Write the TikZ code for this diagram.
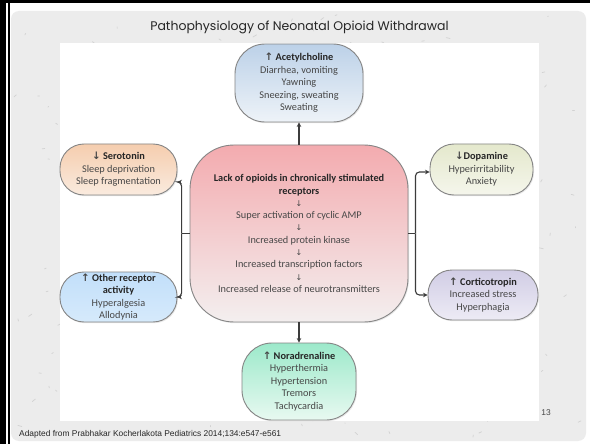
\documentclass[tikz,border=0pt]{standalone}
\usepackage{fontspec}
\setmainfont{Carlito}
\newfontfamily\titlefont{Poppins}
\newfontfamily\footfont{Liberation Sans}
\newfontfamily\arrowfont{DejaVu Sans}
\usetikzlibrary{arrows.meta,shadows}
\definecolor{panel}{HTML}{ECECEC}
\definecolor{speck}{HTML}{D2D2D2}
\definecolor{boxline}{HTML}{858585}
\definecolor{bodytext}{HTML}{474747}
\definecolor{headtext}{HTML}{262626}
\definecolor{conn}{HTML}{3C3C3C}
\definecolor{achT}{HTML}{BCD1E8}\definecolor{achB}{HTML}{EEF3F8}
\definecolor{mainT}{HTML}{F3ABAF}\definecolor{mainB}{HTML}{F3EFEF}
\definecolor{serT}{HTML}{F5CDAE}\definecolor{serB}{HTML}{FAEBDF}
\definecolor{othT}{HTML}{C2DFFA}\definecolor{othM}{HTML}{98CAF4}\definecolor{othB}{HTML}{D6EAFB}
\definecolor{dopT}{HTML}{E4E8CC}\definecolor{dopB}{HTML}{F5F6EC}
\definecolor{corT}{HTML}{D1CDE5}\definecolor{corB}{HTML}{EDEBF5}
\definecolor{norT}{HTML}{9CE9CA}\definecolor{norB}{HTML}{E8F9F1}
\newcommand\myup{{\arrowfont\bfseries ↑}}
\newcommand\mydn{{\arrowfont\bfseries ↓}}
\newcommand\thindn{{\arrowfont\fontsize{8}{12.3}\selectfont ↓}}
\newcommand\hdr[1]{\textcolor{headtext}{\textbf{#1}}}
\begin{document}
\begin{tikzpicture}[x=1pt,y=-1pt,
  box/.style={draw=boxline, line width=0.9pt, align=center, inner sep=0pt,
    font=\fontsize{10.3}{12.5}\selectfont, text=bodytext, shading=axis,
    drop shadow={opacity=0.18, shadow xshift=1pt, shadow yshift=-1.2pt}},
  arr/.style={draw=conn, line width=1.1pt, -{Stealth[length=4.5pt,width=4.5pt]}},
  ln/.style={draw=conn, line width=1.1pt}]
\useasboundingbox (0,0) rectangle (590,444);
% frame and panel
\fill[white] (0,0) rectangle (590,444);
\fill[black] (0,0) rectangle (590,3);
\fill[black] (0,0) rectangle (5.5,444);
\fill[black] (7.5,3) rectangle (10,444);
\fill[panel, rounded corners=8pt] (11,11) rectangle (586,441);
\pgfmathsetseed{7}
\foreach \i in {1,...,260}{
  \pgfmathsetmacro\sx{14+rnd*568}
  \pgfmathsetmacro\sy{14+rnd*424}
  \pgfmathsetmacro\dx{rand*4}
  \pgfmathsetmacro\dy{rand*2.5}
  \draw[speck, line width=0.7pt, line cap=round] (\sx,\sy) -- ++(\dx,\dy);
}
\fill[white] (60,43) rectangle (539,421);
% title
\node[font=\titlefont\fontsize{12.5}{14}\selectfont, text=headtext] (title) at (299.5,27) {Pathophysiology of Neonatal Opioid Withdrawal};
% boxes
\node[box, top color=achT, bottom color=achB, rounded corners=30pt, minimum width=128pt, minimum height=78pt] (ach) at (299,83)
  {\myup\ \hdr{Acetylcholine}\\Diarrhea, vomiting\\Yawning\\Sneezing, sweating\\Sweating};
\node[box, top color=mainT, bottom color=mainB, rounded corners=44pt, minimum width=218pt, minimum height=177pt, font=\fontsize{10.3}{12.3}\selectfont] (main) at (299,233.5)
  {\hdr{Lack of opioids in chronically stimulated}\\\hdr{receptors}\\\thindn\\Super activation of cyclic AMP\\\thindn\\Increased protein kinase\\\thindn\\Increased transcription factors\\\thindn\\Increased release of neurotransmitters};
\node[box, top color=serT, bottom color=serB, rounded corners=24pt, minimum width=117pt, minimum height=51pt] (sero) at (118.5,169.5)
  {\mydn\ \hdr{Serotonin}\\Sleep deprivation\\Sleep fragmentation};
\node[box, top color=othT, middle color=othM, bottom color=othB, rounded corners=24pt, minimum width=117pt, minimum height=50pt] (oth) at (118.5,297)
  {\myup\ \hdr{Other receptor}\\\hdr{activity}\\Hyperalgesia\\Allodynia};
\node[box, top color=dopT, bottom color=dopB, rounded corners=24pt, minimum width=103pt, minimum height=51pt] (dop) at (481.5,169.5)
  {\mydn\hdr{Dopamine}\\Hyperirritability\\Anxiety};
\node[box, top color=corT, bottom color=corB, rounded corners=24pt, minimum width=110pt, minimum height=50pt] (cor) at (483,295)
  {\myup\ \hdr{Corticotropin}\\Increased stress\\Hyperphagia};
\node[box, top color=norT, bottom color=norB, rounded corners=30pt, minimum width=114pt, minimum height=77pt] (nor) at (299,381.5)
  {\myup\ \hdr{Noradrenaline}\\Hyperthermia\\Hypertension\\Tremors\\Tachycardia};
% connectors
\draw[arr] (main.north) -- (ach.south);
\draw[arr] (main.south) -- (nor.north);
\coordinate (lj) at ([xshift=-8pt]main.west);
\draw[ln] (main.west) -- (lj);
\draw[arr, rounded corners=4pt] (lj) |- ([yshift=-12.5pt]sero.east);
\draw[arr, rounded corners=4pt] (lj) |- (oth.east);
\coordinate (rj) at ([xshift=7pt]main.east);
\draw[ln] (main.east) -- (rj);
\draw[arr, rounded corners=4pt] (rj) |- ([yshift=-2.5pt]dop.west);
\draw[arr, rounded corners=4pt] (rj) |- (cor.west);
% footer
\node[font=\footfont\fontsize{8.4}{9}\selectfont, text=headtext, anchor=west, inner sep=0pt] (foot) at (19,434) {Adapted from Prabhakar Kocherlakota Pediatrics 2014;134:e547-e561};
\node[font=\footfont\fontsize{8.4}{9}\selectfont, text=bodytext, inner sep=0pt] (pnum) at (546,413) {13};
\end{tikzpicture}
\end{document}
